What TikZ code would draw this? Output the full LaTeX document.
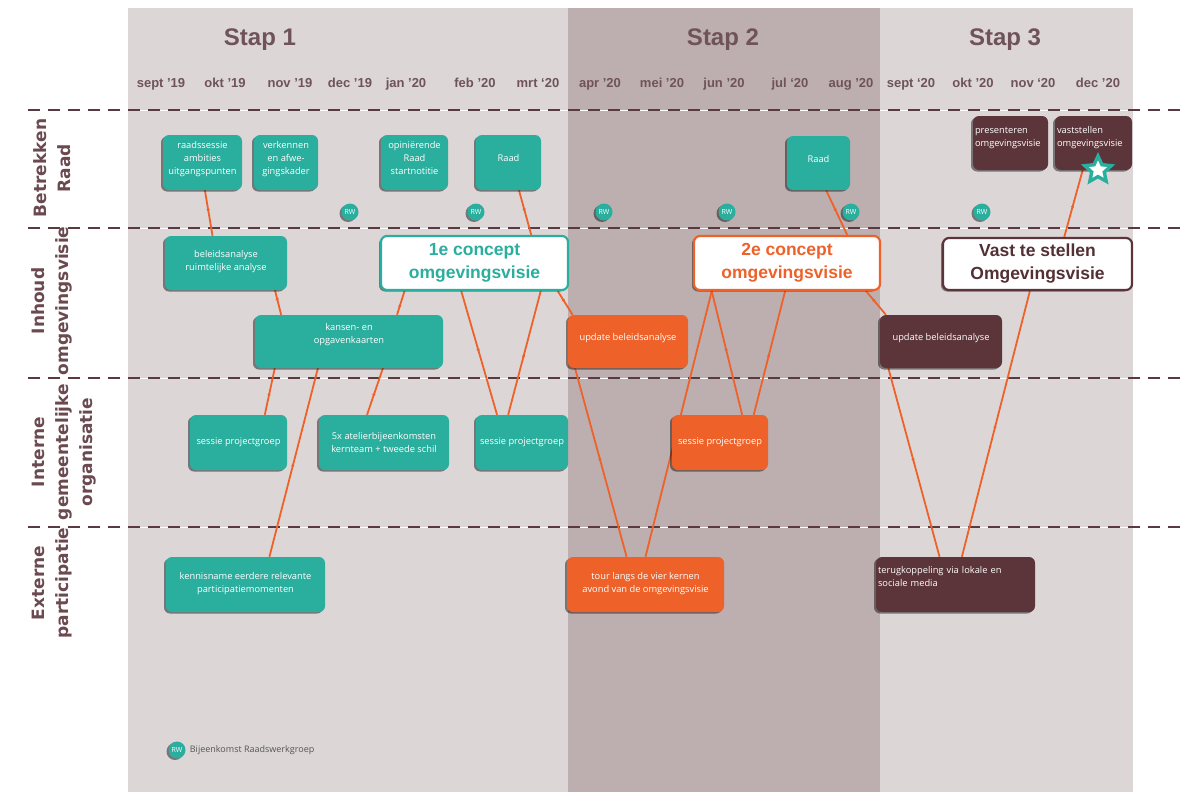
\documentclass[tikz,border=0pt]{standalone}
\usepackage{fontspec}
\setmainfont{Open Sans}
\newfontfamily\headfont{Liberation Sans}
\newfontfamily\rowfont{DejaVu Sans}
\usetikzlibrary{calc,positioning,shadows,shapes.geometric,decorations.markings,arrows.meta}

\definecolor{cband}{HTML}{DCD6D7}
\definecolor{cstap}{HTML}{BDAFB0}
\definecolor{cteal}{HTML}{2AAE9E}
\definecolor{corange}{HTML}{EE6229}
\definecolor{cmaroon}{HTML}{5C353A}
\definecolor{chead}{HTML}{6F5358}
\definecolor{crow}{HTML}{6A4950}
\definecolor{clane}{HTML}{5A3A40}
\definecolor{clegend}{HTML}{555555}

\pgfdeclarelayer{bg}
\pgfdeclarelayer{links}
\pgfsetlayers{bg,links,main}

\tikzset{
  shade/.style={drop shadow={shadow xshift=-2pt, shadow yshift=-1.5pt, opacity=.45, fill=black}},
  box/.style={shade, rounded corners=6pt, text=white, align=center, inner sep=2pt,
    font=\fontsize{9.3}{13}\selectfont},
  tbox/.style={box, fill=cteal},
  obox/.style={box, fill=corange},
  mbox/.style={box, fill=cmaroon},
  lift/.style={text depth=#1},
  concept/.style={shade, rounded corners=6pt, fill=white, line width=2.2pt, align=center,
    font=\headfont\bfseries\fontsize{17.5}{23}\selectfont},
  rw/.style={shade, circle, fill=cteal, text=white, minimum size=17pt, inner sep=0pt,
    font=\fontsize{7}{8}\selectfont},
  link/.style={draw=corange, line width=1.8pt},
  >={Latex[length=4pt,width=3.5pt]},
  tipdown/.style={postaction={decorate, decoration={markings,
    mark=at position .5 with {\arrow[corange]{>}}}}},
  tipup/.style={postaction={decorate, decoration={markings,
    mark=at position .5 with {\arrowreversed[corange]{>}}}}},
  month/.style={anchor=base, font=\headfont\bfseries\fontsize{13}{15}\selectfont, text=chead},
  stap/.style={font=\headfont\bfseries\fontsize{24}{28}\selectfont, text=chead},
  row/.style={rotate=90, align=center, text=crow,
    font=\rowfont\bfseries\fontsize{17}{24}\selectfont},
  lane/.style={draw=clane, line width=2.5pt, dash pattern=on 12pt off 8pt},
}

\begin{document}
\begin{tikzpicture}[x=1pt, y=-1pt]
\useasboundingbox (0,0) rectangle (1186,792);

% bands
\begin{pgfonlayer}{bg}
\fill[cband] (128,8) rectangle (1133,792);
\fill[cstap] (568,8) rectangle (880,792);
\foreach \y in {110,228,378,527} {
  \draw[white, line width=1pt] (25,\y) -- (1186,\y);
  \draw[lane] (28,\y) -- (1186,\y);
}
\end{pgfonlayer}

% headings
\node[stap] (stap1) at (260,40) {Stap 1};
\node[stap] (stap2) at (723,40) {Stap 2};
\node[stap] (stap3) at (1005,40) {Stap 3};
\foreach \m/\x in {sept ’19/161, okt ’19/225, nov ’19/290, dec ’19/350, jan ’20/406,
                   feb ’20/475, mrt ‘20/538, apr ’20/600, mei ’20/662, jun ’20/724,
                   jul ‘20/790, aug ’20/851, sept ‘20/911, okt ’20/973, nov ‘20/1033,
                   dec ’20/1098}
  \node[month] (m\x) at (\x,88) {\m};

% rows
\node[row] (rowraad) at (52,168) {Betrekken\\Raad};
\node[row] (rowinhoud) at (52,301) {Inhoud\\omgevingsvisie};
\node[row] (rowintern) at (64,452) {Interne\\gemeentelijke\\organisatie};
\node[row] (rowextern) at (52,583) {Externe\\participatie};

% betrekken raad
\node[tbox, lift=9pt, minimum width=79, minimum height=55] (sessieraad) at (202.5,162.5) {raadssessie\\ambities\\uitgangspunten};
\node[tbox, lift=9pt, minimum width=64, minimum height=55] (verkennen) at (286,162.5) {verkennen\\en afwe-\\gingskader};
\node[tbox, lift=9pt, minimum width=67, minimum height=55] (startnotitie) at (414.5,162.5) {opiniërende\\Raad\\startnotitie};
\node[tbox, lift=8.5pt, minimum width=65, minimum height=55] (raadA) at (508.5,162.5) {Raad};
\node[tbox, lift=8.5pt, minimum width=63, minimum height=54] (raadB) at (818.5,163) {Raad};
\node[mbox, lift=26pt, align=left, text width=71, minimum width=75, minimum height=54] (presenteren) at (1010.5,143) {presenteren\\omgevingsvisie};
\node[mbox, lift=26pt, align=left, text width=73, minimum width=77, minimum height=54] (vaststellen) at (1093.5,143) {vaststellen\\omgevingsvisie};
\node[star, star points=5, star point ratio=2.1, fill=cteal, minimum size=36pt, inner sep=0pt] (ster) at (1098,170) {};
\node[star, star points=5, star point ratio=2.1, fill=white, minimum size=19pt, inner sep=0pt] (sterbinnen) at (ster.center) {};
\foreach \x [count=\i] in {350,476,604,727,851,982}
  \node[rw] (rw\i) at (\x,212) {RW};

% inhoud omgevingsvisie
\node[tbox, lift=4.5pt, minimum width=122, minimum height=54] (beleid) at (226,263) {beleidsanalyse\\ruimtelijke analyse};
\node[concept, draw=cteal, text=cteal, minimum width=187, minimum height=54] (conceptA) at (474.5,263) {1e concept\\omgevingsvisie};
\node[concept, draw=corange, text=corange, minimum width=186, minimum height=54] (conceptB) at (787,263) {2e concept\\omgevingsvisie};
\node[concept, draw=cmaroon, text=cmaroon!90!black, minimum width=189, minimum height=52] (vast) at (1037.5,264) {Vast te stellen\\Omgevingsvisie};
\node[tbox, lift=15.5pt, minimum width=188, minimum height=53] (kansen) at (349,341.5) {kansen- en\\opgavenkaarten};
\node[obox, lift=8.5pt, minimum width=120, minimum height=53] (updateA) at (628,341.5) {update beleidsanalyse};
\node[mbox, lift=8.5pt, minimum width=122, minimum height=53] (updateB) at (941,341.5) {update beleidsanalyse};

% interne organisatie
\node[tbox, minimum width=97, minimum height=55] (sessieA) at (238.5,442.5) {sessie projectgroep};
\node[tbox, minimum width=130, minimum height=55] (atelier) at (384,442.5) {5x atelierbijeenkomsten\\kernteam + tweede schil};
\node[tbox, minimum width=92, minimum height=55] (sessieB) at (522,442.5) {sessie projectgroep};
\node[obox, minimum width=96, minimum height=55] (sessieC) at (720,442.5) {sessie projectgroep};

% externe participatie
\node[tbox, lift=4.5pt, minimum width=159, minimum height=55] (kennis) at (245.5,584.5) {kennisname eerdere relevante\\participatiemomenten};
\node[obox, lift=4.5pt, minimum width=157, minimum height=55] (tour) at (645.5,584.5) {tour langs de vier kernen\\avond van de omgevingsvisie};
\node[mbox, lift=28.5pt, align=left, text width=155, minimum width=159, minimum height=55] (terug) at (955.5,584.5) {terugkoppeling via lokale en\\sociale media};

% legenda
\node[rw] (rwkey) at (177,750) {RW};
\node[right=4pt of rwkey, text=clegend, font=\fontsize{9}{10}\selectfont, inner sep=0pt] (rwtekst) {Bijeenkomst Raadswerkgroep};

% verbindingen: bovenste node, plek onderkant, onderste node, plek bovenkant
\begin{pgfonlayer}{links}
\foreach \a/\fa/\b/\fb in {sessieraad/.53/beleid/.39, beleid/.9/kansen/.14,
                           conceptA/.43/sessieB/.23, raadA/.66/conceptA/.8,
                           conceptA/.94/updateA/.04, updateA/.06/tour/.38,
                           conceptB/.1/sessieC/.73, raadB/.62/conceptB/.82,
                           conceptB/.92/updateB/.05, updateB/.07/terug/.4}
  \draw[link, tipdown] ($(\a.south west)!\fa!(\a.south east)$) -- ($(\b.north west)!\fb!(\b.north east)$);
\foreach \a/\fa/\b/\fb in {conceptA/.13/kansen/.755, kansen/.106/sessieA/.77,
                           kansen/.335/kennis/.65, kansen/.68/atelier/.37,
                           conceptA/.85/sessieB/.35, conceptB/.1/tour/.5,
                           conceptB/.49/sessieC/.85, vast/.46/terug/.54,
                           vaststellen/.36/vast/.64}
  \draw[link, tipup] ($(\a.south west)!\fa!(\a.south east)$) -- ($(\b.north west)!\fb!(\b.north east)$);
\end{pgfonlayer}
\end{tikzpicture}
\end{document}
